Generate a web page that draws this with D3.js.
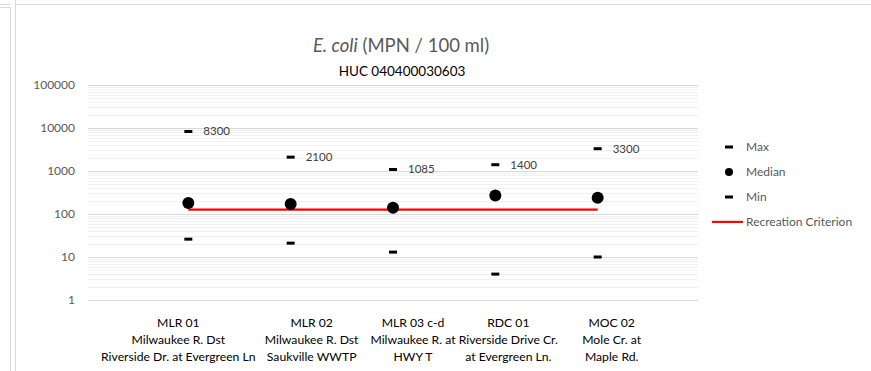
<!DOCTYPE html>
<html>
<head>
<meta charset="utf-8">
<script src="https://cdnjs.cloudflare.com/ajax/libs/d3/7.8.5/d3.min.js"></script>
<style>
  html, body { margin: 0; padding: 0; background: #fff; }
  svg { display: block; font-family: Lato, "Open Sans", sans-serif; }
</style>
</head>
<body>
<svg id="chart" width="871" height="371"></svg>
<script>
// Sampling stations (label lines) and their E. coli statistics (MPN / 100 ml)
const stations = [
  ["MLR 01", "Milwaukee R. Dst", "Riverside Dr. at Evergreen Ln"],
  ["MLR 02", "Milwaukee R. Dst", "Saukville WWTP"],
  ["MLR 03 c-d", "Milwaukee R. at", "HWY T"],
  ["RDC 01", "Riverside Drive Cr.", "at Evergreen Ln."],
  ["MOC 02", "Mole Cr. at", "Maple Rd."]
];
const maxValues = [8300, 2100, 1085, 1400, 3300];
const medianValues = [180, 170, 140, 270, 240];
const minValues = [26, 21, 13, 4, 10];
const criterionValues = [126, 126, 126, 126, 126];
const yTickValues = [1, 10, 100, 1000, 10000, 100000];
const legendItems = ["Max", "Median", "Min", "Recreation Criterion"];

// Horizontal nudges for the wrapped category labels (px), so long names don't collide
const labelShift = [-10, 21, 20, 13, 14];

const svg = d3.select("#chart");

// Outer frame lines
const frame = svg.append("g").attr("stroke", "#d9d9d9").attr("fill", "none");
frame.append("line").attr("x1", 15.5).attr("x2", 15.5).attr("y1", 0).attr("y2", 371);
frame.append("line").attr("x1", 15).attr("x2", 871).attr("y1", 4.5).attr("y2", 4.5);
frame.append("line").attr("x1", 10.5).attr("x2", 10.5).attr("y1", 7).attr("y2", 371);
frame.append("line").attr("x1", 0).attr("x2", 10).attr("y1", 4.5).attr("y2", 4.5);
frame.append("line").attr("x1", 0).attr("x2", 10).attr("y1", 7.5).attr("y2", 7.5);

const plotLeft = 88, plotRight = 698;
const x = d3.scaleLinear().domain([0, 6]).range([86, 700]);
const y = d3.scaleLog().domain([1, 100000]).range([300, 85]);

// Minor gridlines (2..9 within each decade)
const minorTicks = [];
for (let d = 0; d < 5; d++) {
  for (let m = 2; m <= 9; m++) minorTicks.push(m * Math.pow(10, d));
}
svg.append("g").selectAll("line").data(minorTicks).join("line")
  .attr("x1", plotLeft).attr("x2", plotRight)
  .attr("y1", d => Math.round(y(d)) + 0.5).attr("y2", d => Math.round(y(d)) + 0.5)
  .attr("stroke", "#f0f0f0").attr("stroke-width", 1);

// Major gridlines + tick labels via axis
const yAxis = d3.axisLeft(y).tickValues(yTickValues).tickFormat(d3.format("d"))
  .tickSize(-(plotRight - plotLeft)).tickPadding(13);
const yg = svg.append("g").attr("transform", `translate(${plotLeft},0)`).call(yAxis);
yg.select(".domain").remove();
yg.selectAll(".tick line").attr("stroke", "#d9d9d9");
yg.selectAll(".tick text").attr("fill", "#595959").attr("font-size", 12)
  .attr("font-family", "Lato, sans-serif");

// Title
const title = svg.append("text").attr("x", 401).attr("y", 52).attr("text-anchor", "middle")
  .attr("font-size", 18.5).attr("fill", "#595959");
title.append("tspan").attr("font-style", "italic").text("E. coli");
title.append("tspan").text(" (MPN / 100 ml)");
svg.append("text").attr("x", 402).attr("y", 76).attr("text-anchor", "middle")
  .attr("font-size", 13.5).attr("fill", "#000").text("HUC 040400030603");

// Recreation criterion line
const line = d3.line().x((d, i) => x(i + 1)).y(d => y(d));
svg.append("path").datum(criterionValues).attr("d", line)
  .attr("fill", "none").attr("stroke", "#ff0000").attr("stroke-width", 2.2);

// Max and min dashes
const dashW = 8, dashH = 3;
svg.append("g").selectAll("rect").data(maxValues).join("rect")
  .attr("x", (d, i) => x(i + 1) - dashW / 2).attr("y", d => y(d) - dashH / 2)
  .attr("width", dashW).attr("height", dashH).attr("fill", "#000");
svg.append("g").selectAll("rect").data(minValues).join("rect")
  .attr("x", (d, i) => x(i + 1) - dashW / 2).attr("y", d => y(d) - dashH / 2)
  .attr("width", dashW).attr("height", dashH).attr("fill", "#000");

// Median dots
svg.append("g").selectAll("circle").data(medianValues).join("circle")
  .attr("cx", (d, i) => x(i + 1)).attr("cy", d => y(d)).attr("r", 6).attr("fill", "#000");

// Max value labels
svg.append("g").selectAll("text").data(maxValues).join("text")
  .attr("x", (d, i) => x(i + 1) + 15).attr("y", d => y(d) + 4)
  .attr("font-size", 11.5).attr("fill", "#404040").text(d => d);

// Category labels (three lines each)
const cat = svg.append("g").selectAll("text").data(stations).join("text")
  .attr("text-anchor", "middle").attr("font-size", 12.2).attr("fill", "#000")
  .attr("transform", (d, i) => `translate(${x(i + 1) + labelShift[i]},0)`);
cat.selectAll("tspan").data(d => d).join("tspan")
  .attr("x", 0)
  .attr("y", (d, i) => 327 + i * 17)
  .text(d => d);

// Legend
const lg = svg.append("g");
const rowY = i => 147 + i * 25;
lg.append("rect").attr("x", 725).attr("y", rowY(0) - 1.5).attr("width", 8).attr("height", 3).attr("fill", "#000");
lg.append("circle").attr("cx", 729).attr("cy", rowY(1)).attr("r", 4).attr("fill", "#000");
lg.append("rect").attr("x", 725).attr("y", rowY(2) - 1.5).attr("width", 8).attr("height", 3).attr("fill", "#000");
lg.append("line").attr("x1", 712).attr("x2", 743).attr("y1", rowY(3)).attr("y2", rowY(3))
  .attr("stroke", "#ff0000").attr("stroke-width", 2.2);
lg.selectAll("text").data(legendItems).join("text")
  .attr("x", 746).attr("y", (d, i) => rowY(i) + 4)
  .attr("font-size", 12).attr("fill", "#595959").text(d => d);
</script>
</body>
</html>
